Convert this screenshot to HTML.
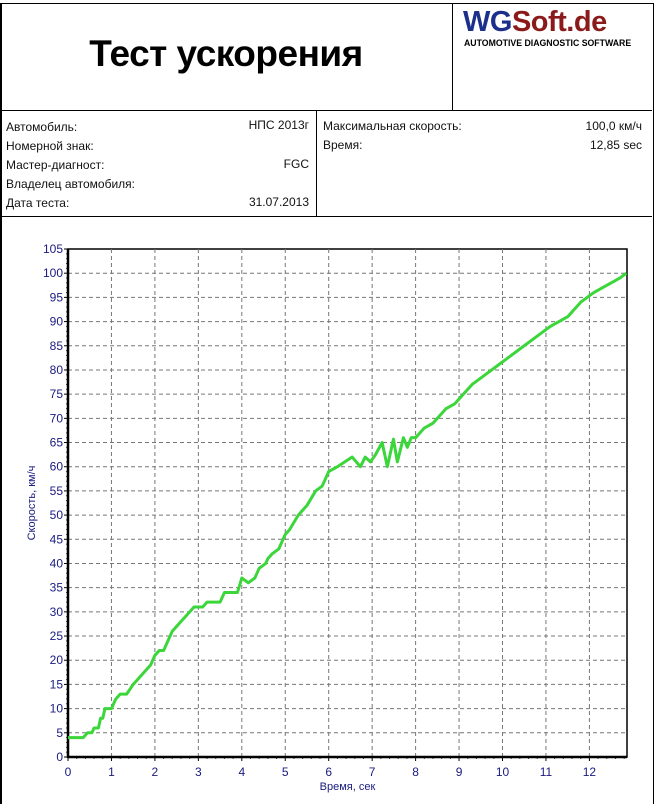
<!DOCTYPE html>
<html><head><meta charset="utf-8"><style>
body{margin:0;background:#fff;width:656px;height:794px;overflow:hidden;font-family:"Liberation Sans","DejaVu Sans",sans-serif;}
.abs{position:absolute}
.t{font-size:12px;color:#111;position:absolute;white-space:nowrap}
</style></head><body>
<div class="abs" style="left:0;top:3px;width:651px;height:800px;border-left:2px solid #000;border-right:1px solid #000;border-top:1px solid #000;"></div>
<div class="abs" style="left:0;top:110px;width:652px;border-top:1px solid #000"></div>
<div class="abs" style="left:0;top:216px;width:652px;border-top:1px solid #000"></div>
<div class="abs" style="left:452px;top:3px;height:107px;border-left:1px solid #000"></div>
<div class="abs" style="left:316px;top:110px;height:106px;border-left:1px solid #000"></div>
<div class="abs" style="left:0;top:33px;width:452px;text-align:center;font-size:37px;font-weight:bold;color:#000;letter-spacing:-0.5px">Тест ускорения</div>
<div class="abs" style="left:463px;top:6px;font-size:29px;font-weight:bold;letter-spacing:-0.5px"><span style="color:#1c2f8a">WG</span><span style="color:#8b1a1a">Soft.de</span></div>
<div class="abs" style="left:464px;top:38px;font-size:9px;font-weight:bold;color:#000;transform:scaleX(0.97);transform-origin:left">AUTOMOTIVE DIAGNOSTIC SOFTWARE</div>
<div class="t" style="left:6px;top:120px">Автомобиль:</div>
<div class="t" style="right:347px;top:118px">НПС  2013г</div>
<div class="t" style="left:6px;top:139px">Номерной  знак:</div>
<div class="t" style="left:6px;top:158px">Мастер-диагност:</div>
<div class="t" style="right:347px;top:157px">FGC</div>
<div class="t" style="left:6px;top:177px">Владелец  автомобиля:</div>
<div class="t" style="left:6px;top:196px">Дата теста:</div>
<div class="t" style="right:347px;top:195px">31.07.2013</div>
<div class="t" style="left:323px;top:119px">Максимальная  скорость:</div>
<div class="t" style="right:14px;top:119px">100,0 км/ч</div>
<div class="t" style="left:323px;top:138px">Время:</div>
<div class="t" style="right:14px;top:138px">12,85 sec</div>
<svg class="abs" style="left:0;top:0" width="656" height="794" id="chart"></svg>
<script>
const times=[0,0.35,0.45,0.55,0.6,0.7,0.75,0.8,0.85,1.0,1.1,1.2,1.35,1.5,1.6,1.7,1.8,1.9,2.0,2.1,2.2,2.3,2.4,2.5,2.6,2.7,2.8,2.9,3.1,3.2,3.5,3.6,3.9,4.0,4.15,4.3,4.4,4.55,4.6,4.7,4.85,5.0,5.1,5.3,5.5,5.7,5.85,6.0,6.2,6.54,6.73,6.84,6.96,7.07,7.23,7.35,7.49,7.58,7.72,7.81,7.9,8.0,8.1,8.2,8.4,8.5,8.7,8.9,9.1,9.3,9.6,9.9,10.2,10.5,10.8,11.1,11.5,11.8,12.1,12.4,12.7,12.85];
const speeds=[4,4,5,5,6,6,8,8,10,10,12,13,13,15,16,17,18,19,21,22,22,24,26,27,28,29,30,31,31,32,32,34,34,37,36,37,39,40,41,42,43,46,47,50,52,55,56,59,60,62,60,62,61,62.4,65,60,65.7,61,66,64,66,66,67,68,69,70,72,73,75,77,79,81,83,85,87,89,91,94,96,97.5,99,100];
const xTicks=[0,1,2,3,4,5,6,7,8,9,10,11,12];
const yTicks=[0,5,10,15,20,25,30,35,40,45,50,55,60,65,70,75,80,85,90,95,100,105];
const X0=68,X1=627,Y0=757,Y1=249;
const sx=t=>X0+t*43.45, sy=v=>Y0-(v/105)*(Y0-Y1);
const svg=document.getElementById('chart');const NS='http://www.w3.org/2000/svg';
function mk(tag,a){const e=document.createElementNS(NS,tag);for(const k in a)e.setAttribute(k,a[k]);svg.appendChild(e);return e;}
let e=mk('rect',{x:X0,y:Y1,width:X1-X0,height:Y0-Y1,fill:'none',stroke:'#000','stroke-width':1.5});


yTicks.forEach(v=>{const y=sy(v);
 if(v>0&&v<105){e=mk('line',{x1:X0,x2:X1,y1:y,y2:y,stroke:'#777','stroke-dasharray':'4,3'});
 
 }
 e=mk('text',{x:X0-5,y:y+4,'text-anchor':'end','font-size':12,fill:'#1a1a80','font-family':'Liberation Sans, sans-serif'});e.textContent=v;
 
 
 mk('line',{x1:X0-4,x2:X0,y1:y,y2:y,stroke:'#000'});});
for(let v=1;v<105;v++){if(v%5)mk('line',{x1:X0-2,x2:X0,y1:sy(v),y2:sy(v),stroke:'#444'});}
xTicks.forEach(t=>{const x=sx(t);
 if(t>0){e=mk('line',{x1:x,x2:x,y1:Y1,y2:Y0,stroke:'#777','stroke-dasharray':'4,3'});
 
 }
 mk('line',{x1:x,x2:x,y1:Y0,y2:Y0+4,stroke:'#000'});
 e=mk('text',{x:x,y:Y0+19,'text-anchor':'middle','font-size':12,fill:'#1a1a80','font-family':'Liberation Sans, sans-serif'});e.textContent=t;
 
 });
for(let t=0.2;t<12.85;t+=0.2){if(Math.abs(t-Math.round(t))>0.05)mk('line',{x1:sx(t),x2:sx(t),y1:Y0,y2:Y0+2,stroke:'#444'});}
mk('line',{x1:X0,x2:X0,y1:Y1,y2:Y0+1,stroke:'#000','stroke-width':2.5});
mk('line',{x1:X0,x2:X1,y1:Y0,y2:Y0,stroke:'#000','stroke-width':2.5});
e=mk('polyline',{points:times.map((t,i)=>sx(t)+','+sy(speeds[i])).join(' '),fill:'none',stroke:'#3ad63a','stroke-width':3,'stroke-linejoin':'round'});


e=mk('text',{x:(X0+X1)/2,y:790,'text-anchor':'middle','font-size':11,fill:'#1a1a80','font-family':'Liberation Sans, sans-serif'});e.textContent='Время, сек';


e=mk('text',{x:0,y:0,'text-anchor':'middle','font-size':11,fill:'#1a1a80','font-family':'Liberation Sans, sans-serif',transform:'translate(35,503) rotate(-90)'});e.textContent='Скорость, км/ч';


</script>
</body></html>
